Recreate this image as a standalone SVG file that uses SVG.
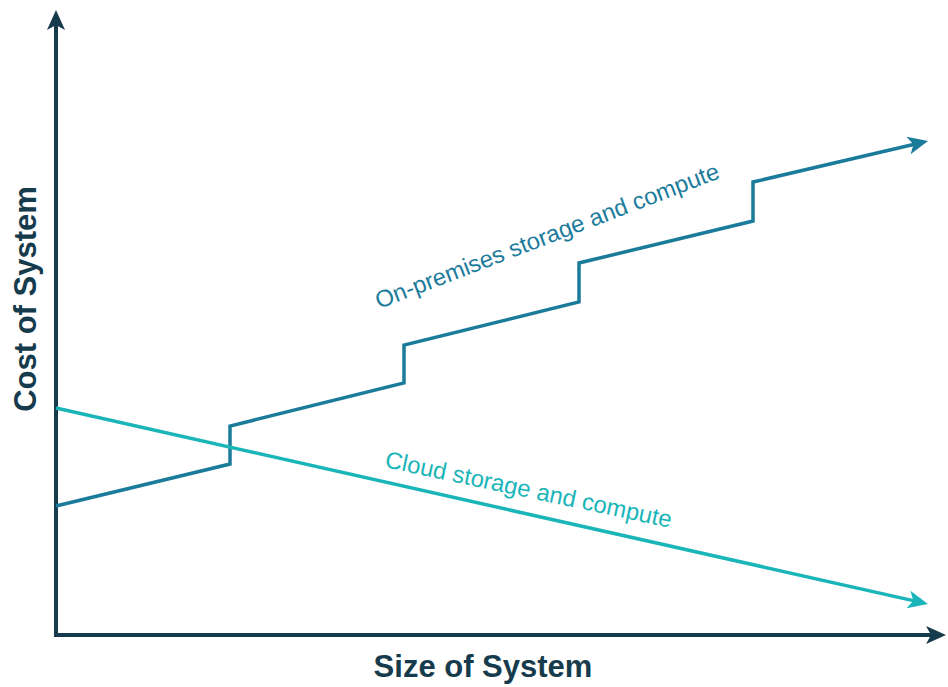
<svg xmlns="http://www.w3.org/2000/svg" width="948" height="687" viewBox="0 0 948 687">
  <style>
    .axis { stroke: #163b4c; stroke-width: 4; fill: none; }
    .onprem { stroke: #1b7b9b; stroke-width: 3.5; fill: none; stroke-linejoin: miter; }
    .cloud { stroke: #1ab5b8; stroke-width: 3.5; fill: none; }
    .axislabel { font-family: "Liberation Sans", Arial, sans-serif; font-weight: bold; font-size: 31px; fill: #163b4c; }
    .serieslabel { font-family: "Liberation Sans", Arial, sans-serif; font-size: 23.8px; }
  </style>
  <defs>
    <marker id="arrAxis" viewBox="0 0 20 20" refX="6" refY="10" markerWidth="20" markerHeight="20" markerUnits="userSpaceOnUse" orient="auto">
      <path d="M0,1 L20,10 L0,19 L5,10 z" fill="#163b4c"/>
    </marker>
    <marker id="arrOnprem" viewBox="0 0 20 20" refX="6" refY="10" markerWidth="20" markerHeight="20" markerUnits="userSpaceOnUse" orient="auto">
      <path d="M0,1 L20,10 L0,19 L5,10 z" fill="#1b7b9b"/>
    </marker>
    <marker id="arrCloud" viewBox="0 0 20 20" refX="6" refY="10" markerWidth="20" markerHeight="20" markerUnits="userSpaceOnUse" orient="auto">
      <path d="M0,1 L20,10 L0,19 L5,10 z" fill="#1ab5b8"/>
    </marker>
  </defs>

  <g id="axes">
    <line class="axis" x1="56" y1="637" x2="56" y2="24" marker-end="url(#arrAxis)"/>
    <line class="axis" x1="54" y1="635" x2="932" y2="635" marker-end="url(#arrAxis)"/>
  </g>

  <g id="connectors">
    <polyline id="onprem-line" class="onprem" points="56,506 230,464 230,426 404,383 404,345 579,302 579,263 753,221 753,182 914.4,144.2" marker-end="url(#arrOnprem)"/>
    <line id="cloud-line" class="cloud" x1="56" y1="408" x2="914.3" y2="600.9" marker-end="url(#arrCloud)"/>
  </g>

  <g id="labels">
    <text id="y-label" class="axislabel" transform="translate(36,299) rotate(-90)" text-anchor="middle">Cost of System</text>
    <text id="x-label" class="axislabel" x="483" y="677" text-anchor="middle">Size of System</text>
    <text id="onprem-label" class="serieslabel" fill="#1b7b9b" transform="translate(379,309) rotate(-21)">On-premises storage and compute</text>
    <text id="cloud-label" class="serieslabel" fill="#1ab5b8" transform="translate(384,467) rotate(12)">Cloud storage and compute</text>
  </g>
</svg>
